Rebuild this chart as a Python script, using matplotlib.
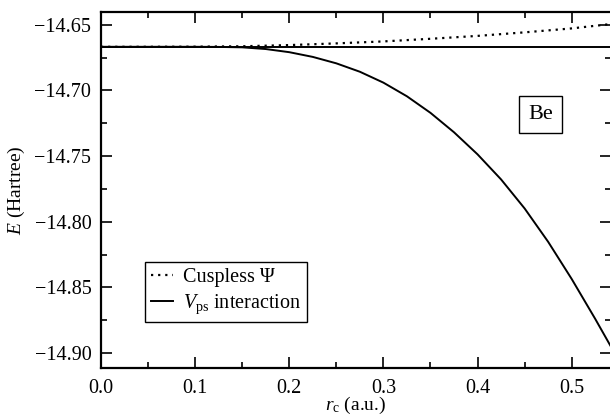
import matplotlib
matplotlib.use("Agg")
import matplotlib.pyplot as plt
from matplotlib.ticker import MultipleLocator, FuncFormatter

plt.rcParams['font.family'] = ['Liberation Serif', 'DejaVu Serif']
plt.rcParams['mathtext.fontset'] = 'custom'
plt.rcParams['mathtext.rm'] = 'Liberation Serif'
plt.rcParams['mathtext.it'] = 'Liberation Serif:italic'

# Data
exact_energy = -14.6668

r_cusp = [0.0, 0.05, 0.10, 0.15, 0.20, 0.25, 0.30, 0.35, 0.40, 0.45, 0.50, 0.545]
E_cusp = [-14.6668, -14.6668, -14.6667, -14.6664, -14.6655, -14.6642, -14.6627,
          -14.6607, -14.6585, -14.6558, -14.6528, -14.6492]

r_vps = [0.0, 0.05, 0.10, 0.125, 0.15, 0.175, 0.20, 0.225, 0.25, 0.275, 0.30,
         0.325, 0.35, 0.375, 0.40, 0.425, 0.45, 0.475, 0.50, 0.525, 0.545]
E_vps = [-14.6668, -14.6668, -14.6668, -14.6669, -14.6672, -14.6685, -14.6709,
         -14.6745, -14.6794, -14.6858, -14.6941, -14.7045, -14.7171, -14.7319,
         -14.7487, -14.7678, -14.7899, -14.8153, -14.8436, -14.8740, -14.8993]

fig = plt.figure(figsize=(6.10, 4.17), dpi=100)
ax = fig.add_axes([101/610, 1 - 368/417, 1 - 101/610 + 0.002, (368 - 12)/417])

ax.axhline(exact_energy, color='black', lw=1.4)
ax.plot(r_cusp, E_cusp, color='black', lw=1.6, linestyle=(0, (1, 2.2)), label='Cuspless Ψ')
ax.plot(r_vps, E_vps, color='black', lw=1.4, label=r'$V_{\rm ps}$ interaction')

ax.set_xlim(0.0, 0.542)
ax.set_ylim(-14.9114, -14.6403)

ax.xaxis.set_major_locator(MultipleLocator(0.1))
ax.xaxis.set_minor_locator(MultipleLocator(0.05))
ax.yaxis.set_major_locator(MultipleLocator(0.05))
ax.yaxis.set_minor_locator(MultipleLocator(0.025))
ax.xaxis.set_major_formatter(FuncFormatter(lambda v, p: f'{v:.1f}'.replace('-', '\u2212')))
ax.yaxis.set_major_formatter(FuncFormatter(lambda v, p: f'{v:.2f}'.replace('-', '\u2212')))

ax.tick_params(which='both', direction='in', top=True, right=True, labelsize=14.5, width=1.2)
ax.tick_params(which='major', length=8)
ax.tick_params(which='minor', length=4)
ax.tick_params(axis='x', which='major', pad=8)
ax.tick_params(axis='y', which='major', pad=7)
for s in ax.spines.values():
    s.set_linewidth(1.6)

ax.set_xlabel(r'$r_{\rm c}$ (a.u.)', fontsize=14, labelpad=-2)
ax.set_ylabel(r'$E$ (Hartree)', fontsize=14, labelpad=5)

leg = ax.legend(loc='lower left', bbox_to_anchor=(0.086, 0.128), fontsize=14.5,
                frameon=True, fancybox=False, edgecolor='black', framealpha=1,
                handlelength=1.1, handletextpad=0.5, borderpad=0.3,
                labelspacing=0.3, borderaxespad=0)
leg.get_frame().set_linewidth(1.0)

ax.text(0.861, 0.712, 'Be', transform=ax.transAxes, fontsize=16, ha='center', va='center',
        bbox=dict(boxstyle='square,pad=0.42', facecolor='white', edgecolor='black', lw=1.0))

fig.savefig('out.png', dpi=100)
